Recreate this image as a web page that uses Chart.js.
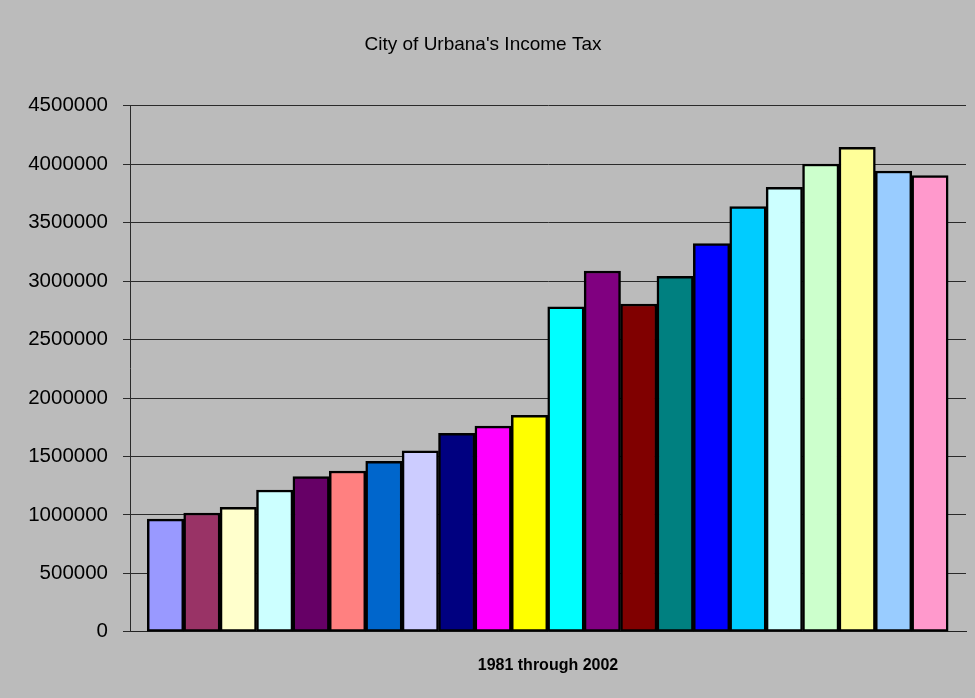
<!DOCTYPE html>
<html>
<head>
<meta charset="utf-8">
<title>City of Urbana's Income Tax</title>
<script src="https://cdn.jsdelivr.net/npm/chart.js@4/dist/chart.umd.min.js"></script>
<style>
  html, body { margin: 0; padding: 0; background: #bbbbbb; }
  canvas { display: block; }
</style>
</head>
<body>
<canvas id="chart" width="975" height="698"></canvas>
<script>
// one bar per year
const years = [1981, 1982, 1983, 1984, 1985, 1986, 1987, 1988, 1989, 1990, 1991,
               1992, 1993, 1994, 1995, 1996, 1997, 1998, 1999, 2000, 2001, 2002];
const incomeTax = [964000, 1016000, 1064000, 1213000, 1327000, 1376000, 1459000, 1548000,
                   1699000, 1759000, 1851000, 2780000, 3087000, 2804000, 3041000, 3321000,
                   3638000, 3802000, 4002000, 4145000, 3942000, 3902000];
const barColors = ['#9999ff', '#993366', '#ffffcc', '#ccffff', '#660066', '#ff8080',
                   '#0066cc', '#ccccff', '#000080', '#ff00ff', '#ffff00', '#00ffff',
                   '#800080', '#800000', '#008080', '#0000ff', '#00ccff', '#ccffff',
                   '#ccffcc', '#ffff99', '#99ccff', '#ff99cc'];

const font = "'Liberation Sans', Arial, sans-serif";

const points = years.map((y, i) => ({ x: y, y: incomeTax[i] }));

new Chart(document.getElementById('chart'), {
  type: 'bar',
  data: {
    datasets: [{
      label: 'Income tax',
      data: points,
      backgroundColor: barColors,
      borderColor: '#000000',
      borderWidth: 2.5,
      borderSkipped: false,
      barPercentage: 1,
      categoryPercentage: 1,
    }],
  },
  options: {
    responsive: false,
    animation: false,
    devicePixelRatio: 1,
    layout: { padding: { left: 0, right: 9, top: 0, bottom: 0 } },
    plugins: {
      legend: { display: false },
      tooltip: { enabled: false },
      title: {
        display: true,
        text: "City of Urbana's Income Tax",
        color: '#000000',
        font: { family: font, size: 19, weight: 'normal' },
        padding: { top: 33, bottom: 50 },
      },
    },
    scales: {
      x: {
        type: 'linear',
        offset: false,
        min: years[0] - 0.975,
        max: years[years.length - 1] + 0.99,
        ticks: { display: false },
        grid: { display: false, drawTicks: false, offset: false },
        border: { display: true, color: '#222222', width: 1 },
        title: {
          display: true,
          text: '1981 through 2002',
          color: '#000000',
          font: { family: font, size: 16, weight: 'bold' },
          padding: { top: 24, bottom: 23 },
        },
      },
      y: {
        min: 0,
        max: 4500000,
        ticks: {
          stepSize: 500000,
          color: '#000000',
          padding: 15,
          font: { family: font, size: 20.5 },
          callback: v => String(v),
        },
        grid: { color: '#2a2a2a', lineWidth: 1, tickLength: 7 },
        border: { display: true, color: '#2a2a2a', width: 1 },
        afterFit: scale => { scale.width = 130; },
      },
    },
  },
});
</script>
</body>
</html>
